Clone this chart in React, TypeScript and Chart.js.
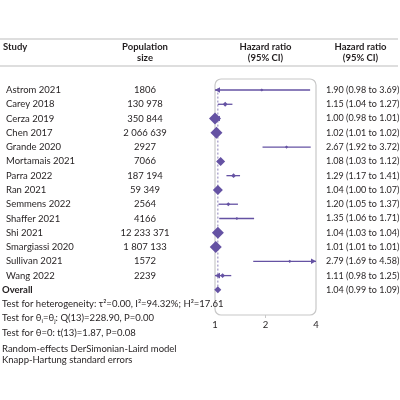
import { useEffect, useRef } from "react";
import { Chart, registerables } from "chart.js";

Chart.register(...registerables);

const studies = [
  "Astrom 2021", "Carey 2018", "Cerza 2019", "Chen 2017", "Grande 2020", "Mortamais 2021", "Parra 2022",
  "Ran 2021", "Semmens 2022", "Shaffer 2021", "Shi 2021", "Smargiassi 2020", "Sullivan 2021", "Wang 2022",
];
const populations = [
  "1806", "130 978", "350 844", "2 066 639", "2927", "7066", "187 194",
  "59 349", "2564", "4166", "12 233 371", "1 807 133", "1572", "2239",
];
const hazardRatios = [1.9, 1.15, 1.0, 1.02, 2.67, 1.08, 1.29, 1.04, 1.2, 1.35, 1.04, 1.01, 2.79, 1.11];
const ciLower = [0.98, 1.04, 0.98, 1.01, 1.92, 1.03, 1.17, 1.0, 1.05, 1.06, 1.03, 1.01, 1.69, 0.98];
const ciUpper = [3.69, 1.27, 1.01, 1.02, 3.72, 1.12, 1.41, 1.07, 1.37, 1.71, 1.04, 1.01, 4.58, 1.25];
const markerRadius = [1.6, 2.4, 6, 6, 1.6, 4.5, 2.4, 5, 2, 1.6, 6, 6, 1.6, 2.4];
const overallHR = 1.04;
const overallLower = 0.99;
const overallUpper = 1.09;
const xTickValues = [1, 2, 4];
const footnotes = ["Random-effects DerSimonian-Laird model", "Knapp-Hartung standard errors"];

const PURPLE = "#6552a3";
const TEXT = "#231f20";
const FONT = "Lato";
const FS = 9.5;
const FS_HR = 9;

const fmt = (v: number) => v.toFixed(2);

const forestPlugin = {
  id: "forest",
  beforeDatasetsDraw(chart: any) {
    const { ctx, chartArea } = chart;
    const xs = chart.scales.x;
    const ys = chart.scales.y;
    ctx.save();
    // rounded frame
    ctx.strokeStyle = "#c8c8c8";
    ctx.lineWidth = 1.2;
    ctx.beginPath();
    ctx.roundRect(chartArea.left, chartArea.top, chartArea.right - chartArea.left, chartArea.bottom - chartArea.top, 6);
    ctx.stroke();
    // dashed overall line
    const xo = xs.getPixelForValue(overallHR);
    ctx.strokeStyle = "#8a7fb8";
    ctx.lineWidth = 1;
    ctx.setLineDash([2, 2]);
    ctx.beginPath();
    ctx.moveTo(xo, ys.getPixelForValue(-0.1));
    ctx.lineTo(xo, ys.getPixelForValue(studies.length));
    ctx.stroke();
    ctx.setLineDash([]);
    // whiskers
    ctx.strokeStyle = PURPLE;
    ctx.fillStyle = PURPLE;
    ctx.lineWidth = 1.3;
    studies.forEach((_, i) => {
      const y = ys.getPixelForValue(i);
      let x1 = xs.getPixelForValue(ciLower[i]);
      let x2 = xs.getPixelForValue(ciUpper[i]);
      const arrowL = x1 < chartArea.left - 0.5;
      const arrowR = x2 > chartArea.right + 0.5;
      x1 = Math.max(x1, chartArea.left);
      x2 = Math.min(x2, chartArea.right);
      ctx.beginPath();
      ctx.moveTo(x1, y);
      ctx.lineTo(x2, y);
      ctx.stroke();
      if (arrowR) {
        ctx.beginPath();
        ctx.moveTo(x2, y);
        ctx.lineTo(x2 - 5, y - 2.8);
        ctx.lineTo(x2 - 5, y + 2.8);
        ctx.closePath();
        ctx.fill();
      }
      if (arrowL) {
        ctx.beginPath();
        ctx.moveTo(x1, y);
        ctx.lineTo(x1 + 5, y - 2.8);
        ctx.lineTo(x1 + 5, y + 2.8);
        ctx.closePath();
        ctx.fill();
      }
    });
    // overall diamond
    const yo = ys.getPixelForValue(studies.length);
    const xl = xs.getPixelForValue(overallLower);
    const xr = xs.getPixelForValue(overallUpper);
    ctx.beginPath();
    ctx.moveTo(xl, yo);
    ctx.lineTo(xo, yo - 3.5);
    ctx.lineTo(xr, yo);
    ctx.lineTo(xo, yo + 3.5);
    ctx.closePath();
    ctx.fill();
    ctx.restore();
  },
  afterDraw(chart: any) {
    const { ctx } = chart;
    const ys = chart.scales.y;
    ctx.save();
    // header rules
    ctx.strokeStyle = "#d4d4d4";
    ctx.lineWidth = 1.5;
    ctx.beginPath();
    ctx.moveTo(0, 39);
    ctx.lineTo(398, 39);
    ctx.moveTo(0, 66);
    ctx.lineTo(398, 66);
    ctx.stroke();

    ctx.fillStyle = TEXT;
    ctx.textBaseline = "middle";
    const put = (s: string, x: number, y: number, align: CanvasTextAlign = "left", bold = false, size = FS) => {
      ctx.font = `${bold ? "bold " : ""}${size}px ${FONT}`;
      ctx.textAlign = align;
      ctx.fillText(s, x, y);
    };
    put("Study", 3, 47, "left", true);
    put("Population", 145, 47, "center", true);
    put("size", 145, 58, "center", true);
    put("Hazard ratio", 265.5, 47, "center", true);
    put("(95% CI)", 265.5, 58, "center", true);
    put("Hazard ratio", 360.5, 47, "center", true);
    put("(95% CI)", 360.5, 58, "center", true);

    studies.forEach((s, i) => {
      const y = ys.getPixelForValue(i);
      put(s, 6, y);
      put(populations[i], 145, y, "center");
      put(`${fmt(hazardRatios[i])} (${fmt(ciLower[i])} to ${fmt(ciUpper[i])})`, 326, y, "left", false, FS_HR);
    });
    const yo = ys.getPixelForValue(studies.length);
    put("Overall", 2, yo, "left", true);
    put(`${fmt(overallHR)} (${fmt(overallLower)} to ${fmt(overallUpper)})`, 326, yo, "left", false, FS_HR);

    const y1 = ys.getPixelForValue(studies.length + 1);
    const y2 = ys.getPixelForValue(studies.length + 2);
    const y3 = ys.getPixelForValue(studies.length + 3);
    put("Test for heterogeneity: \u03c4\u00b2=0.00, I\u00b2=94.32%; H\u00b2=17.61", 2, y1);
    // line with subscripts
    ctx.textAlign = "left";
    let x = 2;
    const seg = (s: string, dy = 0, size = FS) => {
      ctx.font = `${size}px ${FONT}`;
      ctx.fillText(s, x, y2 + dy);
      x += ctx.measureText(s).width;
    };
    seg("Test for \u03b8");
    seg("i", 2.5, 6);
    seg("=\u03b8");
    seg("j", 2.5, 6);
    seg(": Q(13)=228.90, P=0.00");
    put("Test for \u03b8=0: t(13)=1.87, P=0.08", 2, y3);

    put(footnotes[0], 2, 349);
    put(footnotes[1], 2, 359.5);
    ctx.restore();
  },
};

export default function App() {
  const ref = useRef<HTMLCanvasElement | null>(null);
  useEffect(() => {
    if (!ref.current) return;
    const chart = new Chart(ref.current, {
      type: "scatter",
      data: {
        datasets: [
          {
            data: hazardRatios.map((v, i) => ({ x: v, y: i })),
            pointStyle: "rectRot",
            pointRadius: markerRadius,
            pointBackgroundColor: PURPLE,
            pointBorderWidth: 0,
            clip: false as any,
          },
        ],
      },
      options: {
        animation: false,
        responsive: false,
        devicePixelRatio: 1,
        layout: { padding: { left: 215, right: 84, top: 79, bottom: 0 } },
        plugins: { legend: { display: false }, tooltip: { enabled: false } },
        scales: {
          x: {
            type: "logarithmic",
            min: 1,
            max: 4,
            position: "bottom",
            border: { display: false },
            grid: {
              drawOnChartArea: false,
              drawTicks: true,
              tickLength: 3,
              color: (c: any) => (c.tick && c.tick.value === 2 ? "#c8c8c8" : "rgba(0,0,0,0)"),
            },
            ticks: {
              autoSkip: false,
              maxRotation: 0,
              padding: 1,
              color: TEXT,
              font: { family: FONT, size: FS },
              callback: (v: any) => String(v),
            },
            afterBuildTicks: (s: any) => {
              s.ticks = xTickValues.map((v) => ({ value: v }));
            },
            afterFit: (s: any) => {
              s.height = 85;
            },
          },
          y: {
            type: "linear",
            display: false,
            reverse: true,
            min: -0.77,
            max: 15.76,
          },
        },
      },
      plugins: [forestPlugin],
    });
    return () => chart.destroy();
  }, []);
  return (
    <div style={{ position: "absolute", left: 0, top: 0, width: 400, height: 400, background: "#fff" }}>
      <canvas ref={ref} width={400} height={400} />
    </div>
  );
}
